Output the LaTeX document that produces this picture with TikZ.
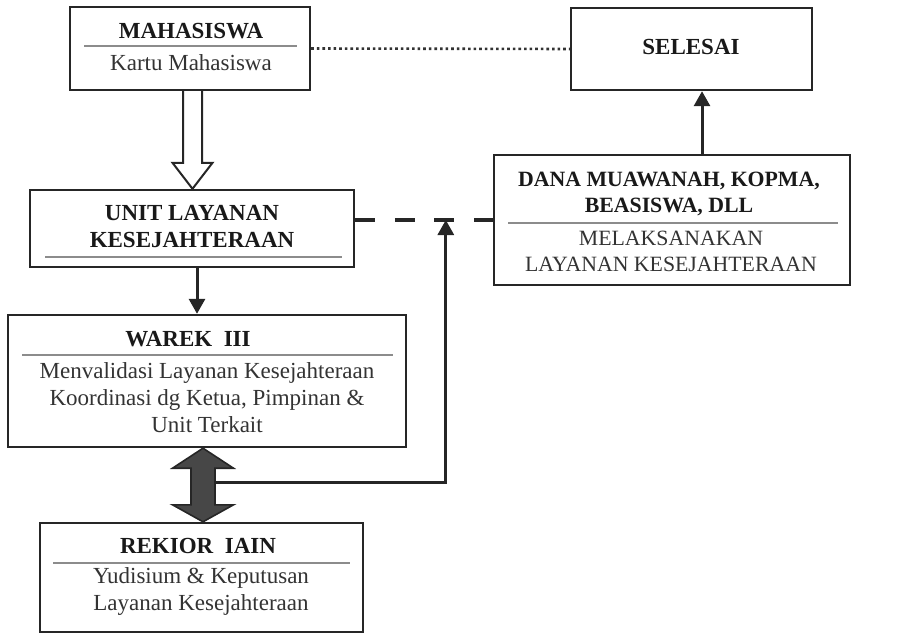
\documentclass[tikz,border=0pt]{standalone}
\usepackage{fontspec}
\setmainfont{Liberation Serif}
\usetikzlibrary{positioning,calc,arrows.meta}

\tikzset{
  box/.style={draw=black!85, line width=1.2pt, rectangle, inner sep=0pt, fill=white},
  head/.style={font=\fontsize{11.5}{13.5}\selectfont\bfseries, align=center, inner sep=0pt, text=black!90},
  body/.style={font=\fontsize{11.5}{13.5}\selectfont, align=center, inner sep=0pt, text=black!80},
  smallhead/.style={head, font=\fontsize{10.9}{12.8}\selectfont\bfseries},
  smallbody/.style={body, font=\fontsize{10.9}{13.3}\selectfont},
  divider/.style={draw=black!45, line width=0.7pt},
  flow/.style={-{Triangle[length=7.5pt,width=8pt]}, line width=1.5pt, draw=black!85},
  hollow/.style={draw=black!85, line width=1pt, fill=white},
  dblarrow/.style={draw=black!85, line width=0.8pt, fill=black!72},
  linkdash/.style={draw=black!85, line width=1.8pt, dash pattern=on 10pt off 9.8pt},
  linkdot/.style={draw=black!80, line width=1.3pt, dash pattern=on 1.3pt off 1.5pt},
}

\begin{document}
\begin{tikzpicture}[x=0.5pt, y=-0.5pt]
\useasboundingbox (0,0) rectangle (897,636);

% Boxes
\node[box, minimum width=120pt, minimum height=41.5pt] (mhs) at (190,48.5) {};
\node[box, minimum width=120.5pt, minimum height=41pt] (selesai) at (691.5,49) {};
\node[box, minimum width=162pt, minimum height=38.5pt] (unit) at (192,228.5) {};
\node[box, minimum width=178pt, minimum height=65pt] (dana) at (672,220) {};
\node[box, minimum width=199pt, minimum height=66pt] (warek) at (207,381) {};
\node[box, minimum width=161.5pt, minimum height=54.5pt] (rektor) at (201.5,577.5) {};

% Texts
\node[head] (mhsT) at (191,31) {MAHASISWA};
\node[body] (mhsS) at (191,63) {Kartu Mahasiswa};
\draw[divider] (84,46) -- (297,46);

\node[head] (selesaiT) at (691,47) {SELESAI};

\node[head] (unitT) at (192,227) {UNIT LAYANAN\\KESEJAHTERAAN};
\draw[divider] (45,257) -- (342,257);

\node[smallhead] (danaT) at (669,194) {DANA MUAWANAH, KOPMA,\\BEASISWA, DLL};
\draw[divider] (508,223) -- (838,223);
\node[smallbody] (danaS) at (671,251.5) {MELAKSANAKAN\\LAYANAN KESEJAHTERAAN};

\node[head] (warekT) at (188,339) {WAREK \ III};
\draw[divider] (22,355) -- (393,355);
\node[body] (warekS) at (207,398) {Menvalidasi Layanan Kesejahteraan\\Koordinasi dg Ketua, Pimpinan \&\\Unit Terkait};

\node[head] (rektorT) at (198,546) {REKIOR \ IAIN};
\draw[divider] (53,563) -- (350,563);
\node[body] (rektorS) at (201,591) {Yudisium \& Keputusan\\Layanan Kesejahteraan};

% Connectors
\draw[linkdot] (mhs.east) -- (selesai.west);
\draw[linkdash] (unit.east |- dana.west) -- (dana.west);

\coordinate (up) at ($(dana.north)+(30,0)$);
\draw[flow] (up) -- (up |- selesai.south);

\coordinate (dn) at ($(unit.south)+(5,0)$);
\draw[flow] (dn) -- (dn |- warek.north);

\coordinate (hin) at ($(mhs.south)+(2.5,0)$);
\coordinate (hout) at (hin |- unit.north);
\draw[hollow] ($(hin)+(-9.5,0)$) -- ($(hout)+(-9.5,-26)$) -- ($(hout)+(-20,-26)$)
  -- (hout) -- ($(hout)+(20,-26)$) -- ($(hout)+(9.5,-26)$) -- ($(hin)+(9.5,0)$);

\coordinate (dtop) at ($(rektor.north |- warek.south)+(1.5,0)$);
\coordinate (dbot) at ($(rektor.north)+(1.5,0)$);
\coordinate (dmid) at ($(dtop)!0.46!(dbot)$);
\coordinate (tee) at ($(dana.west)+(-47,0)$);
\draw[flow] (dmid) -| (tee);

\draw[dblarrow] (dtop) -- ($(dtop)+(30.5,20)$) -- ($(dtop)+(12,20)$) -- ($(dbot)+(12,-17)$)
  -- ($(dbot)+(30.5,-17)$) -- (dbot) -- ($(dbot)+(-30.5,-17)$) -- ($(dbot)+(-12,-17)$)
  -- ($(dtop)+(-12,20)$) -- ($(dtop)+(-30.5,20)$) -- cycle;

\end{tikzpicture}
\end{document}
